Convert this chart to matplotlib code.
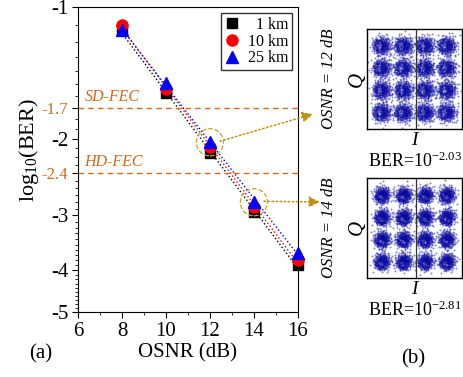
import numpy as np
import matplotlib
matplotlib.use('Agg')
import matplotlib.pyplot as plt
from matplotlib.ticker import FixedLocator, NullFormatter

plt.rcParams['font.family'] = ['Liberation Serif', 'DejaVu Serif']
plt.rcParams['mathtext.fontset'] = 'custom'
plt.rcParams['mathtext.rm'] = 'Liberation Serif'
plt.rcParams['mathtext.it'] = 'Liberation Serif:italic'

# --- data (log10(BER)) ---
osnr = [8, 10, 12, 14, 16]
ber_1km = [-1.13, -1.575, -2.16, -2.95, -3.90]
ber_10km = [-1.10, -1.54, -2.095, -2.875, -3.80]
ber_25km = [-1.13, -1.49, -2.04, -2.80, -3.65]
labels = ['  1 km', '10 km', '25 km']
sd_fec = -1.7
hd_fec = -2.4
const_osnr = [12, 14]
const_ber = ['-2.03', '-2.81']
const_sigma = [0.42, 0.37]
qam_levels = [-3, -1, 1, 3]

orange = '#D2691E'
gold = '#C9A227'

fig = plt.figure(figsize=(4.64, 3.77), dpi=100)
ax = fig.add_axes([0.168, 0.172, 0.474, 0.809])

series = [ber_1km, ber_10km, ber_25km]
colors = ['black', 'red', 'blue']
markers = ['s', 'o', '^']
msizes = [7, 8, 8.5]
x0s = [7.75, 8.0, 8.0]
for ys, c, x0 in zip(series, colors, x0s):
    v = -np.array(ys)
    p = np.polyfit(osnr, np.log10(v), 1)
    xf = np.linspace(x0, 16.5, 50)
    ax.plot(xf, 10 ** np.polyval(p, xf), ls=':', color=c, lw=1.0)
for ys, c, m, ms, lab in zip(series, colors, markers, msizes, labels):
    ax.plot(osnr, -np.array(ys), ls='none', marker=m, color=c, ms=ms,
            label=lab, clip_on=False, zorder=5)

ax.set_yscale('log')
ax.set_xlim(6, 16)
ax.set_ylim(5, 1)

# FEC thresholds
for thr, name in [(sd_fec, 'SD-FEC'), (hd_fec, 'HD-FEC')]:
    ax.axhline(-thr, color=orange, ls='--', lw=1.0, dashes=(4, 3))
    ax.text(6.3, -thr * 0.985, name, color=orange, style='italic',
            fontsize=11.5, va='bottom', ha='left')

major = [1, 2, 3, 4, 5]
minor = [round(a, 1) for a in np.arange(1.1, 5.0, 0.1)
         if round(a, 1) not in major]
ax.yaxis.set_major_locator(FixedLocator(major + [-sd_fec, -hd_fec]))
ax.set_yticklabels(['-1', '-2', '-3', '-4', '-5', '-1.7', '-2.4'])
ax.yaxis.set_minor_locator(FixedLocator(minor))
ax.yaxis.set_minor_formatter(NullFormatter())
ax.set_xticks(range(6, 17, 2))
ax.set_xticks(range(7, 16, 2), minor=True)
ax.tick_params(axis='both', which='major', direction='out', length=4,
               labelsize=15, pad=3)
ax.tick_params(axis='both', which='minor', direction='out', length=2.5)
for t in ax.get_yticklabels()[5:]:
    t.set_color(orange)
    t.set_fontsize(12)

ax.set_xlabel('OSNR (dB)', fontsize=15, labelpad=2)
ax.set_ylabel(r'log$_{10}$(BER)', fontsize=16)
ax.yaxis.set_label_coords(-0.17, 0.53)

leg = ax.legend(loc='upper right', fontsize=11.5, frameon=True, fancybox=False,
                edgecolor='black', handlelength=0.8, handletextpad=0.6,
                borderaxespad=0.35, borderpad=0.25, labelspacing=0.05)
leg.get_frame().set_linewidth(1.0)

# highlight points and arrows to the constellations
ax.scatter([12, 14], [-ber_25km[2], -ber_25km[3]], s=380, facecolors='none',
           edgecolors=gold, linestyle='--', linewidths=0.9, zorder=6,
           clip_on=False)
tips = [(313, 377 - 114), (320, 377 - 202)]
for (xo, yo), (tx, ty) in zip([(12, ber_25km[2]), (14, ber_25km[3])], tips):
    start = ax.transData.transform((xo, -yo)) + np.array([10, 1])
    ax.annotate('', xy=(tx, ty), xycoords='figure pixels',
                xytext=tuple(start), textcoords='figure pixels',
                arrowprops=dict(arrowstyle='-|>', color='#C09010', ls=':',
                                lw=1.1, mutation_scale=16,
                                shrinkA=0, shrinkB=0))


def halton(n, base):
    out = np.zeros(n)
    for i in range(n):
        f, r, k = 1.0, 0.0, i + 1
        while k > 0:
            f /= base
            r += f * (k % base)
            k //= base
        out[i] = r
    return out


# 16-QAM constellation panels (deterministic quasi-noise clouds)
npts = 300
u1 = halton(npts * 16, 2)
u2 = halton(npts * 16, 3)
rad = np.sqrt(-2 * np.log(np.clip(u1, 1e-6, 1)))
rad[::6] *= 1.8
ang = 2 * np.pi * u2
bottoms = [0.658, 0.263]
for k in range(2):
    cax = fig.add_axes([0.791, bottoms[k], 0.205, 0.265])
    s = const_sigma[k]
    xs, ys = [], []
    idx = 0
    for i_lvl in qam_levels:
        for q_lvl in qam_levels:
            sl = slice(idx * npts, (idx + 1) * npts)
            xs.append(i_lvl + s * rad[sl] * np.cos(ang[sl] + k))
            ys.append(q_lvl + s * rad[sl] * np.sin(ang[sl] + k))
            idx += 1
    cax.scatter(np.concatenate(xs), np.concatenate(ys), s=2.0, color='#0A0AA0',
                alpha=0.5, linewidths=0)
    cax.axvline(0.1, color='#333333', lw=0.9)
    cax.set_xlim(-4.4, 4.4)
    cax.set_ylim(-4.5, 4.5)
    cax.set_xticks([])
    cax.set_yticks([])
    for sp in cax.spines.values():
        sp.set_linewidth(1.0)
    cax.set_xlabel('I', style='italic', fontsize=14, labelpad=2)
    cax.set_ylabel('Q', style='italic', fontsize=15, labelpad=0)
    cax.text(-0.40, 0.5, 'OSNR = %d dB' % const_osnr[k], style='italic',
             fontsize=12, rotation=90, ha='center', va='center',
             transform=cax.transAxes)
    cax.text(0.5, -0.32, r'BER=10$^{%s}$' % const_ber[k], fontsize=13,
             ha='center', va='center', transform=cax.transAxes)

fig.text(41 / 464, 1 - 354 / 377, '(a)', fontsize=15, ha='center', va='center')
fig.text(413 / 464, 1 - 359 / 377, '(b)', fontsize=15, ha='center', va='center')

fig.savefig('out.png', dpi=100)
plt.close(fig)
